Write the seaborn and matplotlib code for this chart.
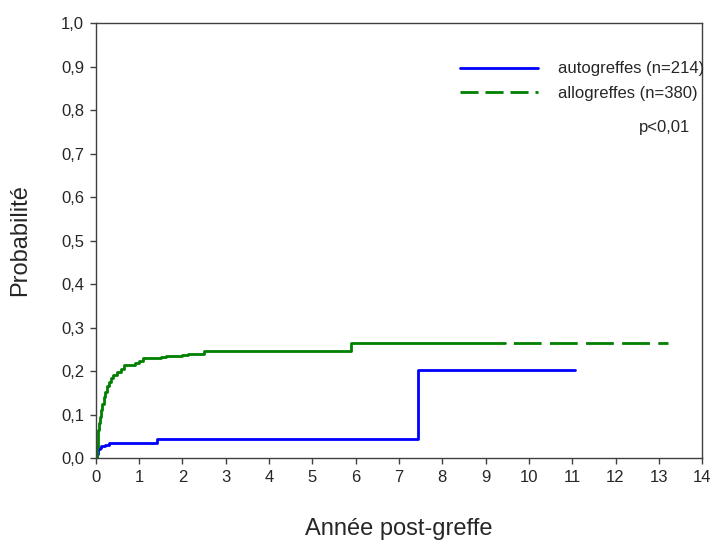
import numpy as np
import pandas as pd
import matplotlib
matplotlib.use("Agg")
import matplotlib.pyplot as plt
import seaborn as sns
from matplotlib.lines import Line2D

# ---- data ----
auto_t = [0.0, 0.02, 0.05, 0.10, 0.13, 0.22, 0.30, 1.42, 7.45, 11.07]
auto_p = [0.0, 0.010, 0.020, 0.024, 0.027, 0.031, 0.034, 0.044, 0.202, 0.202]

allo_t = [0.0, 0.02, 0.04, 0.06, 0.08, 0.10, 0.12, 0.15, 0.18, 0.22, 0.26, 0.30,
          0.34, 0.40, 0.48, 0.58, 0.66, 0.90, 1.00, 1.10, 1.50, 1.62, 2.00,
          2.12, 2.50, 5.90, 13.21]
allo_p = [0.0, 0.025, 0.045, 0.065, 0.080, 0.095, 0.110, 0.125, 0.140, 0.152,
          0.165, 0.175, 0.183, 0.190, 0.198, 0.205, 0.213, 0.218, 0.224, 0.230,
          0.233, 0.235, 0.238, 0.240, 0.246, 0.265, 0.265]
allo_dash_from = 9.45  # after last censored point the curve is drawn dashed

labels = ["autogreffes (n=214)", "allogreffes (n=380)"]
x_ticks = list(range(0, 15))
y_ticks = [0.0, 0.1, 0.2, 0.3, 0.4, 0.5, 0.6, 0.7, 0.8, 0.9, 1.0]

sns.set_style("white")
plt.rcParams["font.family"] = ["Liberation Sans", "DejaVu Sans"]

fig = plt.figure(figsize=(7.15, 5.43), dpi=100)
ax = fig.add_axes([0.134, 0.1565, 0.848, 0.801])

blue = "#0000ff"
green = "#008000"
lw = 2.0

df_auto = pd.DataFrame({"t": auto_t, "p": auto_p})
sns.lineplot(data=df_auto, x="t", y="p", ax=ax, color=blue, lw=lw,
             drawstyle="steps-post", estimator=None, sort=False)

df_allo = pd.DataFrame({"t": allo_t, "p": allo_p})
solid = df_allo[df_allo.t <= allo_dash_from]
last_p = solid.p.iloc[-1]
solid = pd.concat([solid, pd.DataFrame({"t": [allo_dash_from], "p": [last_p]})])
tail = pd.concat([pd.DataFrame({"t": [allo_dash_from], "p": [last_p]}),
                  df_allo[df_allo.t > allo_dash_from]])
sns.lineplot(data=solid, x="t", y="p", ax=ax, color=green, lw=lw,
             drawstyle="steps-post", estimator=None, sort=False)
sns.lineplot(data=tail, x="t", y="p", ax=ax, color=green, lw=lw,
             drawstyle="steps-post", estimator=None, sort=False)
ax.lines[-1].set_linestyle((10.0, (10.0, 3.0)))

ax.set_xlim(0, 14)
ax.set_ylim(0, 1.0)
ax.set_xticks(x_ticks)
ax.set_xticklabels([str(v) for v in x_ticks], fontsize=12)
ax.set_yticks(y_ticks)
ax.set_yticklabels([f"{v:.1f}".replace(".", ",") for v in y_ticks], fontsize=12)
ax.tick_params(axis="both", direction="out", length=4.5, width=1, color="#404040",
               bottom=True, left=True, pad=4)
for s in ax.spines.values():
    s.set_visible(True)
    s.set_color("#404040")
    s.set_linewidth(1.0)

ax.set_xlabel("Année post-greffe", fontsize=17)
ax.set_ylabel("Probabilité", fontsize=17)
ax.xaxis.set_label_coords(0.5, -0.137)
ax.yaxis.set_label_coords(-0.107, 0.5)

handles = [Line2D([0], [0], color=blue, lw=lw),
           Line2D([0], [0], color=green, lw=lw, dashes=(6.5, 2.5))]
leg = ax.legend(handles, labels, loc="upper left", bbox_to_anchor=(0.6007, 0.912),
                frameon=False, fontsize=12, handlelength=4.68, handletextpad=1.2,
                labelspacing=0.55, borderaxespad=0.0, borderpad=0.0)
ax.text(0.980, 0.761, "p<0,01", transform=ax.transAxes, fontsize=12,
        ha="right", va="center")

fig.savefig("out.png", dpi=100)
